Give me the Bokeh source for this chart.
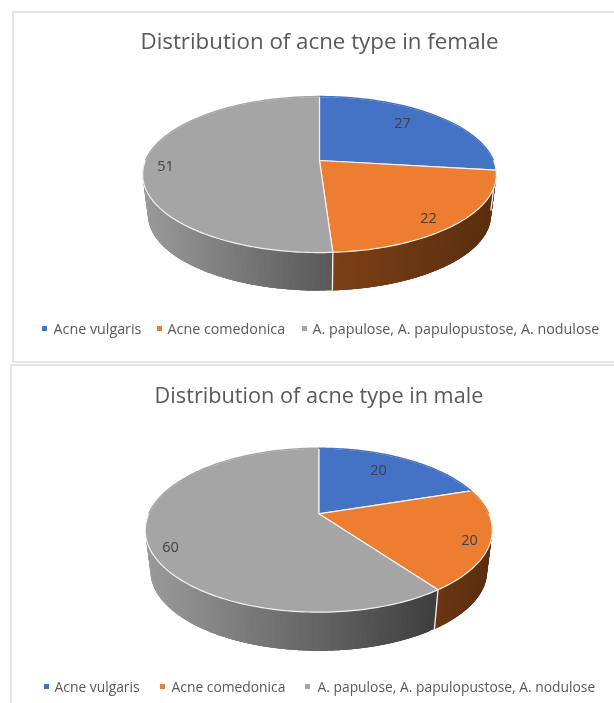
import numpy as np
from bokeh.plotting import figure
from bokeh.models import Range1d
from bokeh.core.properties import value
from bokeh.embed import file_html
from bokeh.resources import INLINE

# ---- data ----
categories = ["Acne vulgaris", "Acne comedonica", "A. papulose, A. papulopustose, A. nodulose"]
female_values = [27, 22, 51]
male_values = [20, 20, 60]
female_title = "Distribution of acne type in female"
male_title = "Distribution of acne type in male"

# ---- styles ----
FONT = value("Open Sans")
TEXT = "#595959"
LABEL = "#404040"
top_colors = ["#4472c4", "#ed7d31", "#a5a5a5"]
# side gradient: (colour at left end, colour at right end) of each slice's visible wall
side_colors = {
    "female": [("#2c4a80", "#2c4a80"), ("#7c4016", "#5a2e0f"), ("#9a9a9a", "#585858")],
    "male": [("#2c4a80", "#2c4a80"), ("#6a3613", "#5a2e0f"), ("#9a9a9a", "#3e3e3e")],
}

W, H = 614, 703
p = figure(width=W, height=H, output_backend="svg", toolbar_location=None,
           x_range=Range1d(0, W), y_range=Range1d(H, 0), min_border=0,
           outline_line_color=None, background_fill_color="white", border_fill_color="white")
p.styles = {"position": "fixed", "left": "0px", "top": "0px"}
p.axis.visible = False
p.grid.visible = False


def hex2rgb(h):
    return np.array([int(h[i:i + 2], 16) for i in (1, 3, 5)], float)


def rgb2hex(c):
    return "#%02x%02x%02x" % tuple(int(round(v)) for v in c)


def lerp(a, b, t):
    return rgb2hex(hex2rgb(a) * (1 - t) + hex2rgb(b) * t)


def draw_pie(values, key, cx, cy, R, S, k, depth, shrink):
    """Perspective 3D pie. cx,cy is the apex; angle runs clockwise from 12 o'clock."""
    def top(theta):
        u, v = np.sin(theta), np.cos(theta)
        w = 1 + k * v
        return cx + R * u / w, cy - S * v / w

    def low(theta):
        x, y = top(theta)
        return cx + (x - cx) * shrink, cy + (y - cy) * shrink + depth

    vals = np.array(values, float)
    edges = np.concatenate([[0], np.cumsum(vals)]) / vals.sum() * 2 * np.pi

    # walls (front half only): overlapping gradient strips, painted so no seams show
    edge_lines = []
    for i in range(len(vals)):
        a0, a1 = max(edges[i], np.pi / 2), min(edges[i + 1], 3 * np.pi / 2)
        if a1 <= a0:
            continue
        n = max(2, int((a1 - a0) / 0.03))
        th = np.linspace(a0, a1, n + 1)
        tx, ty = top(th)
        x0, x1 = tx.min(), tx.max()
        c0, c1 = side_colors[key][i]
        # order the strips so that each one overlaps the previous on the same side
        xs, ys, cols = [], [], []
        for j in range(n):
            sub = np.linspace(th[j], th[min(j + 3, n)], 8)
            sx, sy = top(sub)
            bx, by = low(sub)
            xs.append(np.r_[sx, bx[::-1]])
            ys.append(np.r_[sy, by[::-1]])
            t = ((tx[j] + tx[j + 1]) / 2 - x0) / (x1 - x0)
            cols.append(lerp(c0, c1, t))
        p.patches(xs, ys, fill_color=cols, line_color=None)
        if np.pi / 2 < edges[i + 1] < 3 * np.pi / 2:
            edge_lines.append(edges[i + 1])
    for e in edge_lines:
        a, b = top(e), low(e)
        p.line([a[0], b[0]], [a[1], b[1]], line_color="#f5f1ec", line_width=1.3)

    # top faces
    for i in range(len(vals)):
        n = max(4, int((edges[i + 1] - edges[i]) / 0.02))
        th = np.linspace(edges[i], edges[i + 1], n + 1)
        tx, ty = top(th)
        p.patch(np.r_[cx, tx], np.r_[cy, ty], fill_color=top_colors[i],
                line_color="#f5f1ec", line_width=1.2, line_join="round")
    # the back rim shows no light edge: repaint it in the slice colour
    for i in range(len(vals)):
        a0, a1 = edges[i], edges[i + 1]
        for lo, hi in ((a0, min(a1, np.pi / 2)), (max(a0, 3 * np.pi / 2), a1)):
            if hi > lo:
                tx, ty = top(np.linspace(lo, hi, 60))
                p.line(tx, ty, line_color=top_colors[i], line_width=1.4)


def draw_text(x, y, s, size, color=TEXT, align="left"):
    p.text([x], [y], text=[s], text_font=FONT, text_font_size=f"{size}px", text_color=color,
           text_align=align, text_baseline="middle")


# ---- panels ----
p.quad(left=[12.5], right=[W + 5], top=[11.5], bottom=[361.5], fill_color="white",
       line_color="#dcdcdc", line_width=1.5)
p.quad(left=[10.5], right=[W + 5], top=[364.5], bottom=[H + 5], fill_color="white",
       line_color="#dcdcdc", line_width=1.5)

# ---- female ----
draw_text(319, 40, female_title, 22.3, align="center")
draw_pie(female_values, "female", 319, 160, 174, 75.5, 0.18, 40.8, 0.97)
for (x, y), v in zip([(402, 122), (428, 217), (165, 165)], female_values):
    draw_text(x, y, str(v), 14.5, LABEL, "center")
for (sx, tx), c, col in zip([(44, 53), (159, 167), (304, 312)], categories, top_colors):
    p.rect([sx], [328], width=5, height=5, fill_color=col, line_color=None)
    draw_text(tx, 328, c, 14.3)

# ---- male ----
draw_text(318.5, 394, male_title, 21.7, align="center")
draw_pie(male_values, "male", 318.3, 513.3, 170, 78.7, 0.2, 41.5, 0.97)
for (x, y), v in zip([(378, 469), (469, 539), (170, 546)], male_values):
    draw_text(x, y, str(v), 14.5, LABEL, "center")
for (sx, tx), c, col in zip([(46, 54), (162, 171), (307, 317)], categories, top_colors):
    p.rect([sx], [686], width=5, height=5, fill_color=col, line_color=None)
    draw_text(tx, 686, c, 13.85)

open("out.html", "w").write(file_html(p, INLINE))
